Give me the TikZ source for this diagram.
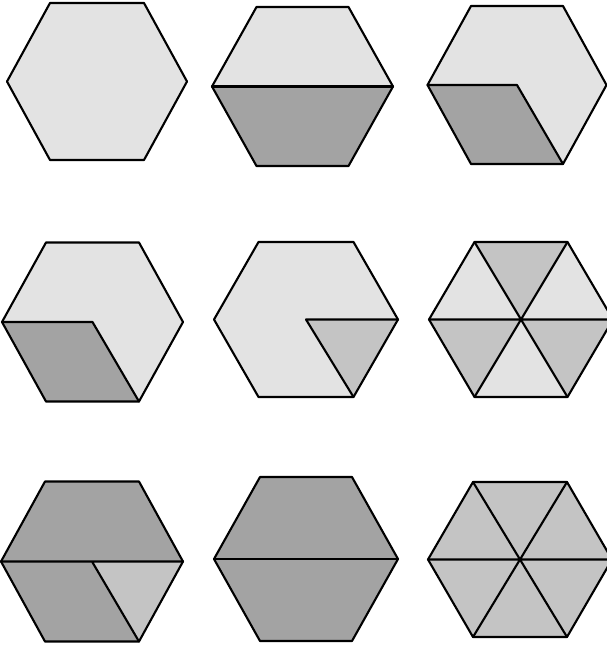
\documentclass[tikz,border=0pt]{standalone}
\definecolor{lightg}{gray}{0.89}
\definecolor{medg}{gray}{0.77}
\definecolor{darkg}{gray}{0.64}
\newcommand\hexdef[6]{%
 \coordinate (#1c) at (#2,#3);
 \coordinate (#1r) at (#2+#4,#3);
 \coordinate (#1br) at (#2+#5,#3+#6);
 \coordinate (#1bl) at (#2-#5,#3+#6);
 \coordinate (#1l) at (#2-#4,#3);
 \coordinate (#1tl) at (#2-#5,#3-#6);
 \coordinate (#1tr) at (#2+#5,#3-#6);
}
\tikzset{edge/.style={line width=2.1pt,line join=round,line cap=round}}
\begin{document}
\begin{tikzpicture}[x=1pt,y=-1pt]
\useasboundingbox (0,0) rectangle (606,645);
\hexdef{a}{97}{81.5}{90}{47}{78.5}
\hexdef{b}{302.5}{86.5}{90.5}{46}{79.5}
\hexdef{c}{517}{85}{89.5}{46}{79}
\hexdef{d}{92.5}{322}{90.5}{46.5}{79.5}
\hexdef{e}{306}{319.5}{92}{47.5}{77.5}
\hexdef{f}{521}{319.5}{92}{46.5}{77.5}
\hexdef{g}{92}{561.5}{91}{47}{80}
\hexdef{h}{306}{559}{92}{46}{82}
\hexdef{i}{520}{559.5}{92}{47}{77.5}
% fills
% hex 1
\fill[lightg] (ar)--(abr)--(abl)--(al)--(atl)--(atr)--cycle;
% hex 2
\fill[lightg] (bl)--(btl)--(btr)--(br)--cycle;
\fill[darkg] (bl)--(bbl)--(bbr)--(br)--cycle;
% hex 3
\fill[lightg] (cr)--(cbr)--(cc)--(cl)--(ctl)--(ctr)--cycle;
\fill[darkg] (cl)--(cc)--(cbr)--(cbl)--cycle;
% hex 4
\fill[lightg] (dr)--(dbr)--(dc)--(dl)--(dtl)--(dtr)--cycle;
\fill[darkg] (dl)--(dc)--(dbr)--(dbl)--cycle;
% hex 5
\fill[lightg] (er)--(ec)--(ebr)--(ebl)--(el)--(etl)--(etr)--cycle;
\fill[medg] (ec)--(er)--(ebr)--cycle;
% hex 6
\fill[medg] (fc)--(ftl)--(ftr)--cycle;
\fill[lightg] (fc)--(ftr)--(fr)--cycle;
\fill[medg] (fc)--(fr)--(fbr)--cycle;
\fill[lightg] (fc)--(fbr)--(fbl)--cycle;
\fill[medg] (fc)--(fbl)--(fl)--cycle;
\fill[lightg] (fc)--(fl)--(ftl)--cycle;
% hex 7
\fill[darkg] (gl)--(gtl)--(gtr)--(gr)--cycle;
\fill[darkg] (gl)--(gc)--(gbr)--(gbl)--cycle;
\fill[medg] (gc)--(gr)--(gbr)--cycle;
% hex 8
\fill[darkg] (hr)--(hbr)--(hbl)--(hl)--(htl)--(htr)--cycle;
% hex 9
\fill[medg] (ir)--(ibr)--(ibl)--(il)--(itl)--(itr)--cycle;
% outlines
\foreach \n in {a,b,c,d,e,f,g,h,i}
  \draw[edge] (\n r)--(\n br)--(\n bl)--(\n l)--(\n tl)--(\n tr)--cycle;
% inner lines
\draw[edge] (bl)--(br);
\draw[edge] (cl)--(cc)--(cbr);
\draw[edge] (dl)--(dc)--(dbr);
\draw[edge] (er)--(ec)--(ebr);
\draw[edge] (fl)--(fr) (ftl)--(fbr) (ftr)--(fbl);
\draw[edge] (gl)--(gr) (gc)--(gbr);
\draw[edge] (hl)--(hr);
\draw[edge] (il)--(ir) (itl)--(ibr) (itr)--(ibl);
\end{tikzpicture}
\end{document}
